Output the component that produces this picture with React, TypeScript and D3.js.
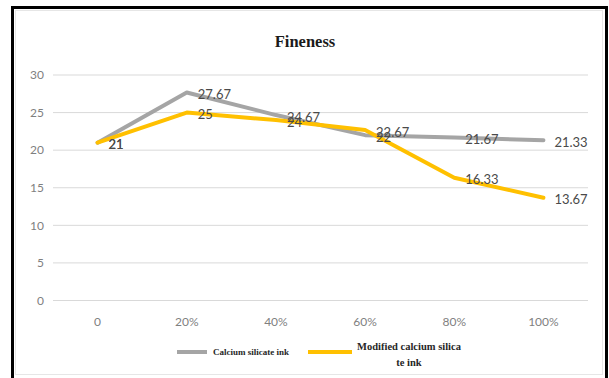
import React from "react";
import * as d3 from "d3";

const categories = ["0", "20%", "40%", "60%", "80%", "100%"];
const calciumSilicate = [21, 27.67, 24.67, 22, 21.67, 21.33];
const modifiedCalciumSilicate = [21, 25, 24, 22.67, 16.33, 13.67];
const yTicks = [0, 5, 10, 15, 20, 25, 30];
const seriesNames = ["Calcium silicate ink", "Modified calcium silicate ink"];
const seriesColors = ["#a5a5a5", "#ffc000"];

const W = 609;
const H = 378;
const plot = { left: 53, right: 588, top: 75, bottom: 300.5 };

export default function App() {
  const x = d3
    .scalePoint<string>()
    .domain(categories)
    .range([plot.left, plot.right])
    .padding(0.5);
  const y = d3.scaleLinear().domain([0, 30]).range([plot.bottom, plot.top]);
  const line = d3
    .line<number>()
    .x((_, i) => x(categories[i]) as number)
    .y((d) => y(d));

  const series = [calciumSilicate, modifiedCalciumSilicate];
  const fmt = (v: number) => String(v);

  return (
    <svg
      width={W}
      height={H}
      style={{ position: "absolute", left: 0, top: 0, background: "#fff" }}
    >
      <rect x={0} y={0} width={W} height={H} fill="#fff" />
      <rect x={15.5} y={10.5} width={587} height={364} fill="none" stroke="#e6e6e6" />
      <path d="M12.5,380 V7.5 H606.5 V380" fill="none" stroke="#000" strokeWidth={3} />

      <text
        x={305}
        y={47}
        textAnchor="middle"
        fontFamily="Liberation Serif"
        fontWeight="bold"
        fontSize={16.5}
        fill="#1a1a1a"
      >
        Fineness
      </text>

      {yTicks.map((t) => (
        <g key={t}>
          <line x1={plot.left} x2={plot.right} y1={y(t)} y2={y(t)} stroke="#d9d9d9" strokeWidth={1} />
          <text
            x={44}
            y={y(t)}
            dy="0.35em"
            textAnchor="end"
            fontFamily="Lato"
            fontSize={12}
            fill="#7f7f7f"
          >
            {t}
          </text>
        </g>
      ))}

      {categories.map((c) => (
        <text
          key={c}
          x={x(c) as number}
          y={322}
          dy="0.35em"
          textAnchor="middle"
          fontFamily="Lato"
          fontSize={12}
          fill="#7f7f7f"
        >
          {c}
        </text>
      ))}

      {series.map((s, si) => (
        <path
          key={si}
          d={line(s) || ""}
          fill="none"
          stroke={seriesColors[si]}
          strokeWidth={4}
          strokeLinejoin="round"
          strokeLinecap="round"
        />
      ))}

      {series.map((s, si) =>
        s.map((v, i) => (
          <text
            key={si + "-" + i}
            x={(x(categories[i]) as number) + 11}
            y={y(v) + 2}
            dy="0.35em"
            fontFamily="Lato"
            fontSize={13}
            fill="#4a4a4a"
          >
            {fmt(v)}
          </text>
        ))
      )}

      <line x1={177} x2={207} y1={352} y2={352} stroke={seriesColors[0]} strokeWidth={4} />
      <text
        x={213}
        y={352}
        dy="0.35em"
        fontFamily="Liberation Serif"
        fontWeight="bold"
        fontSize={9}
        fill="#262626"
      >
        {seriesNames[0]}
      </text>
      <line x1={308} x2={352} y1={352} y2={352} stroke={seriesColors[1]} strokeWidth={4} />
      <text
        x={409}
        y={346}
        dy="0.35em"
        textAnchor="middle"
        fontFamily="Liberation Serif"
        fontWeight="bold"
        fontSize={10.5}
        fill="#262626"
      >
        Modified calcium silica
      </text>
      <text
        x={409}
        y={362}
        dy="0.35em"
        textAnchor="middle"
        fontFamily="Liberation Serif"
        fontWeight="bold"
        fontSize={10.5}
        fill="#262626"
      >
        te ink
      </text>
    </svg>
  );
}
